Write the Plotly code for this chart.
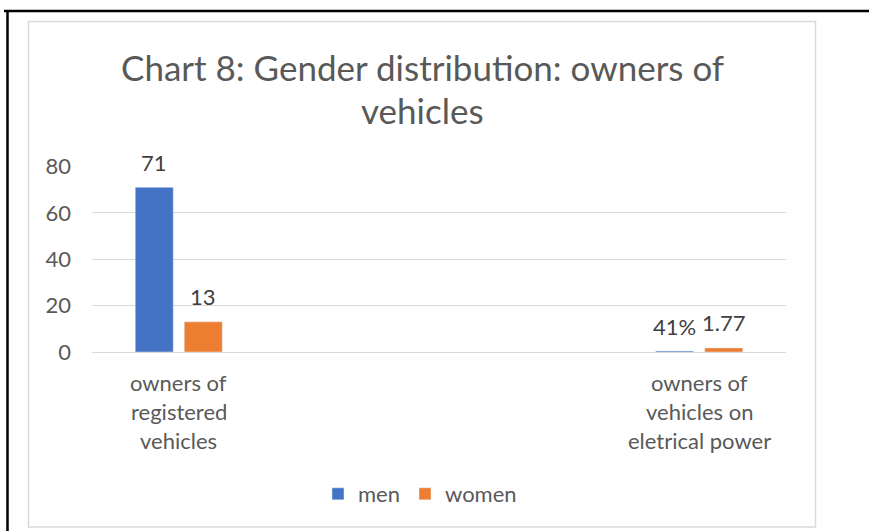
import plotly.graph_objects as go

# ---- data ----
categories = ["owners of registered vehicles", "owners of vehicles on eletrical power"]
category_lines = [["owners of", "registered", "vehicles"], ["owners of", "vehicles on", "eletrical power"]]
gap_slots = ["gap1", "gap2"]
series_names = ["men", "women"]
men_values = [71, 0.41]
women_values = [13, 1.77]
men_labels = ["71", "41%"]
women_labels = ["13", "1.77"]
y_ticks = [0, 20, 40, 60, 80]
title_lines = ["Chart 8: Gender distribution: owners of", "vehicles"]

W, H = 869, 531
L, R, T, B = 92, 83, 166, 179
FONT = "Lato, Carlito, 'Liberation Sans', sans-serif"
plot_w = W - L - R
plot_h = H - T - B

def px_x(p):
    return (p - L) / plot_w

def px_y(p):
    return (H - B - p) / plot_h

order = [categories[0], gap_slots[0], gap_slots[1], categories[1]]

fig = go.Figure()
fig.add_trace(go.Bar(name=series_names[0], x=categories, y=men_values,
                     marker_color="#4472C4", hoverinfo="skip"))
fig.add_trace(go.Bar(name=series_names[1], x=categories, y=women_values,
                     marker_color="#ED7D31", hoverinfo="skip"))

bargap = 0.435
slot = plot_w / 4 * (1 - bargap) / 2
annotations = []
for vals, labs, sgn in ((men_values, men_labels, -1), (women_values, women_labels, 1)):
    for c, v, t in zip(categories, vals, labs):
        annotations.append(dict(x=c, y=v, xref="x", yref="y", text=t, showarrow=False,
                                xshift=sgn * slot / 2, yshift=25, yanchor="middle",
                                font=dict(family=FONT, size=22, color="#404040")))
for c, lines in zip(categories, category_lines):
    for i, line in enumerate(lines):
        annotations.append(dict(x=c, y=0, xref="x", yref="y", text=line, showarrow=False,
                                yshift=-30 - 29 * i, yanchor="middle",
                                font=dict(family=FONT, size=22, color="#595959")))
for i, line in enumerate(title_lines):
    annotations.append(dict(x=px_x(422), y=px_y(67 + 43 * i), xref="paper", yref="paper",
                            text=line, showarrow=False, xanchor="center", yanchor="middle",
                            font=dict(family=FONT, size=35, color="#595959")))

shapes = [
    # inner light-grey chart border
    dict(type="rect", xref="paper", yref="paper", x0=px_x(28.5), x1=px_x(815.5),
         y0=px_y(527), y1=px_y(21.5), line=dict(color="#d9d9d9", width=1.5), layer="below"),
    # outer black frame (top and left)
    dict(type="line", xref="paper", yref="paper", x0=px_x(4), x1=px_x(869),
         y0=px_y(11), y1=px_y(11), line=dict(color="black", width=2.5)),
    dict(type="line", xref="paper", yref="paper", x0=px_x(7.5), x1=px_x(7.5),
         y0=px_y(10), y1=px_y(531), line=dict(color="black", width=2.5)),
]

fig.update_layout(
    width=W, height=H,
    margin=dict(l=L, r=R, t=T, b=B),
    paper_bgcolor="white", plot_bgcolor="white",
    barmode="group", bargap=bargap, bargroupgap=0.2245,
    showlegend=True,
    legend=dict(orientation="h", x=px_x(420), y=px_y(494), xanchor="center", yanchor="middle",
                font=dict(family=FONT, size=22, color="#595959"),
                traceorder="normal"),
    annotations=annotations,
    shapes=shapes,
    xaxis=dict(type="category", categoryorder="array", categoryarray=order,
               range=[-0.5, 3.5], showticklabels=False, showgrid=False, zeroline=False,
               showline=False, fixedrange=True),
    yaxis=dict(range=[0, 80.2], tickvals=y_ticks, showgrid=True, gridcolor="#d9d9d9",
               gridwidth=1, zeroline=True, zerolinecolor="#d9d9d9", zerolinewidth=1,
               showline=False, ticks="", ticklabelstandoff=20,
               tickfont=dict(family=FONT, size=22, color="#595959"), fixedrange=True),
    font=dict(family=FONT),
)

fig.write_html("out.html", config={"displayModeBar": False},
               post_script="document.body.style.margin='0';")
